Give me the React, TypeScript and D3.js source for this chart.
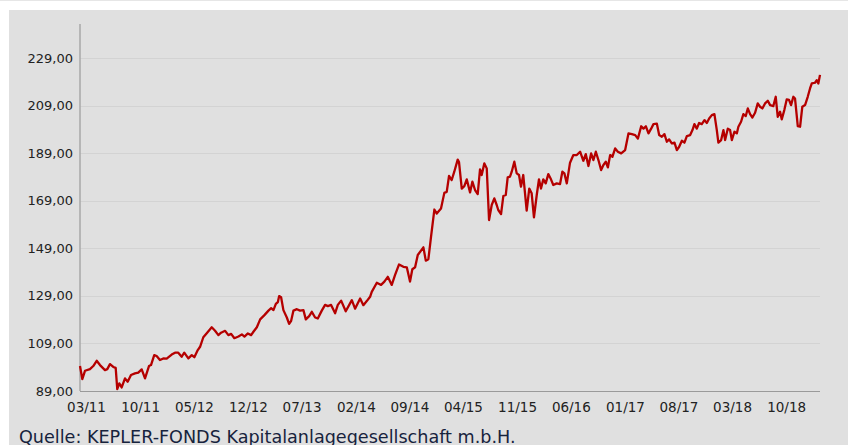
import React from "react";
import * as d3 from "d3";

// fund price (decimal year / value)
const years = [
  2011.091, 2011.116, 2011.145, 2011.199, 2011.235, 2011.272, 2011.308, 2011.362, 2011.387, 2011.416,
  2011.452, 2011.478, 2011.495, 2011.517, 2011.543, 2011.579, 2011.608, 2011.644, 2011.687, 2011.723,
  2011.760, 2011.796, 2011.839, 2011.861, 2011.896, 2011.922, 2011.958, 2011.994, 2012.031, 2012.085,
  2012.121, 2012.156, 2012.193, 2012.221, 2012.265, 2012.302, 2012.330, 2012.367, 2012.392, 2012.427,
  2012.464, 2012.518, 2012.554, 2012.590, 2012.619, 2012.663, 2012.698, 2012.728, 2012.763, 2012.807,
  2012.844, 2012.872, 2012.909, 2012.944, 2012.969, 2013.006, 2013.042, 2013.088, 2013.132, 2013.161,
  2013.186, 2013.212, 2013.234, 2013.248, 2013.269, 2013.294, 2013.331, 2013.356, 2013.378, 2013.403,
  2013.440, 2013.475, 2013.511, 2013.537, 2013.573, 2013.602, 2013.638, 2013.667, 2013.710, 2013.746,
  2013.776, 2013.811, 2013.855, 2013.884, 2013.920, 2013.970, 2014.036, 2014.071, 2014.126, 2014.161,
  2014.198, 2014.234, 2014.252, 2014.307, 2014.353, 2014.389, 2014.426, 2014.469, 2014.505, 2014.548,
  2014.595, 2014.632, 2014.667, 2014.692, 2014.722, 2014.751, 2014.812, 2014.838, 2014.866, 2014.895,
  2014.931, 2014.957, 2015.003, 2015.039, 2015.065, 2015.090, 2015.119, 2015.147, 2015.184, 2015.198,
  2015.228, 2015.256, 2015.282, 2015.318, 2015.343, 2015.372, 2015.401, 2015.426, 2015.444, 2015.473,
  2015.499, 2015.524, 2015.553, 2015.581, 2015.607, 2015.624, 2015.654, 2015.679, 2015.705, 2015.726,
  2015.751, 2015.770, 2015.798, 2015.824, 2015.849, 2015.870, 2015.895, 2015.932, 2015.960, 2015.986,
  2016.011, 2016.041, 2016.065, 2016.087, 2016.112, 2016.138, 2016.166, 2016.195, 2016.220, 2016.257,
  2016.293, 2016.318, 2016.340, 2016.366, 2016.401, 2016.437, 2016.474, 2016.510, 2016.545, 2016.571,
  2016.600, 2016.629, 2016.654, 2016.680, 2016.708, 2016.737, 2016.762, 2016.788, 2016.810, 2016.835,
  2016.860, 2016.889, 2016.918, 2016.954, 2016.997, 2017.033, 2017.070, 2017.106, 2017.135, 2017.171,
  2017.196, 2017.222, 2017.250, 2017.279, 2017.304, 2017.341, 2017.366, 2017.395, 2017.423, 2017.449,
  2017.474, 2017.503, 2017.532, 2017.558, 2017.583, 2017.612, 2017.640, 2017.666, 2017.702, 2017.727,
  2017.748, 2017.774, 2017.799, 2017.828, 2017.857, 2017.883, 2017.908, 2017.937, 2017.965, 2017.991,
  2018.008, 2018.038, 2018.063, 2018.081, 2018.110, 2018.135, 2018.154, 2018.182, 2018.208, 2018.225,
  2018.254, 2018.279, 2018.305, 2018.327, 2018.352, 2018.377, 2018.406, 2018.435, 2018.460, 2018.485,
  2018.514, 2018.544, 2018.569, 2018.604, 2018.630, 2018.652, 2018.677, 2018.695, 2018.723, 2018.749,
  2018.774, 2018.796, 2018.821, 2018.839, 2018.869, 2018.894, 2018.918, 2018.948, 2018.977, 2019.002,
  2019.021, 2019.056, 2019.075, 2019.092, 2019.110,
];

const values = [
  99.5, 94.0, 97.5, 98.2, 99.5, 101.7, 99.9, 97.8, 98.2, 100.3,
  99.1, 98.7, 89.8, 92.2, 90.5, 94.3, 92.9, 95.7, 96.4, 96.7,
  98.1, 94.3, 99.5, 99.9, 104.1, 103.7, 102.0, 102.7, 102.6, 104.3,
  105.1, 105.1, 103.4, 105.1, 102.7, 104.1, 103.2, 106.2, 107.6, 111.6,
  113.3, 115.8, 114.3, 112.5, 113.5, 114.3, 112.5, 113.0, 111.2, 111.9,
  112.8, 111.9, 113.2, 112.5, 113.9, 115.8, 119.1, 120.9, 122.8, 123.8,
  123.0, 125.6, 126.4, 128.9, 128.4, 123.0, 119.9, 117.2, 118.5, 122.8,
  123.4, 122.8, 123.0, 119.1, 120.5, 122.3, 119.9, 119.5, 122.8, 125.2,
  124.7, 125.2, 121.7, 125.2, 127.0, 122.5, 127.2, 123.6, 127.9, 125.1,
  126.8, 128.6, 130.7, 134.5, 133.6, 135.0, 137.0, 133.6, 137.8, 142.2,
  141.2, 141.0, 135.0, 140.2, 141.0, 146.2, 149.4, 143.8, 144.4, 153.9,
  165.3, 163.6, 165.7, 172.3, 172.7, 179.4, 177.7, 181.2, 186.3, 185.3,
  174.1, 175.1, 178.0, 172.5, 177.0, 173.5, 171.8, 182.2, 179.8, 184.7,
  182.6, 160.9, 167.2, 170.0, 167.2, 165.1, 163.4, 171.0, 171.4, 178.8,
  179.1, 181.2, 185.4, 180.5, 179.8, 174.9, 179.8, 164.8, 174.1, 172.1,
  162.0, 171.4, 178.0, 174.1, 178.0, 176.3, 180.2, 178.0, 175.6, 176.3,
  176.0, 181.2, 180.5, 176.3, 185.0, 188.2, 188.2, 189.6, 185.8, 188.6,
  183.6, 188.9, 186.1, 189.6, 186.1, 181.9, 184.0, 185.4, 183.0, 188.2,
  187.5, 191.0, 189.6, 188.9, 190.3, 197.3, 197.0, 196.6, 195.1, 200.3,
  199.3, 200.3, 197.3, 199.3, 201.2, 201.4, 196.6, 195.9, 197.0, 193.8,
  194.8, 193.1, 193.4, 190.3, 191.7, 194.2, 193.4, 196.2, 196.6, 198.7,
  201.2, 199.3, 201.7, 201.2, 202.9, 201.7, 203.6, 205.0, 205.4, 198.7,
  193.4, 194.5, 198.7, 194.5, 199.3, 198.7, 194.5, 198.0, 197.3, 200.1,
  202.2, 205.4, 204.6, 207.8, 205.4, 204.0, 206.0, 209.9, 208.5, 207.8,
  209.9, 211.0, 209.2, 208.8, 212.7, 204.3, 206.4, 203.2, 207.1, 211.6,
  211.4, 209.2, 212.7, 212.0, 200.4, 200.1, 208.5, 209.2, 212.7, 216.2,
  218.3, 218.6, 219.7, 218.3, 221.9,
];

const xTickLabels = [
  "03/11", "10/11", "05/12", "12/12", "07/13", "02/14", "09/14",
  "04/15", "11/15", "06/16", "01/17", "08/17", "03/18", "10/18",
];
const yTicks = [89, 109, 129, 149, 169, 189, 209, 229];
const yMax = 243.3;

const source = "Quelle: KEPLER-FONDS Kapitalanlagegesellschaft m.b.H.";

const W = 848;
const H = 445;
const font = "'DejaVu Sans', Verdana, sans-serif";

// decimal year -> Date
const toDate = (t: number) => {
  const y = Math.floor(t);
  const a = +new Date(y, 0, 1);
  const b = +new Date(y + 1, 0, 1);
  return new Date(a + (t - y) * (b - a));
};

// "MM/YY" -> Date at start of month
const labelDate = (s: string) => {
  const [mm, yy] = s.split("/").map(Number);
  return new Date(2000 + yy, mm - 1, 1);
};

export default function App() {
  const data = years.map((t, i) => ({ date: toDate(t), value: values[i] }));

  const left = 80, right = 820, top = 24, bottom = 391;

  const x = d3.scaleTime()
    .domain(d3.extent(data, d => d.date) as [Date, Date])
    .range([left, right]);

  const y = d3.scaleLinear()
    .domain([89, yMax])
    .range([bottom, top]);

  const line = d3.line<{ date: Date; value: number }>()
    .x(d => x(d.date))
    .y(d => y(d.value));

  const fmt = (v: number) => v.toFixed(2).replace(".", ",");

  return (
    <svg
      width={W}
      height={H}
      style={{ position: "absolute", left: 0, top: 0, display: "block" }}
    >
      <rect x={0} y={0} width={W} height={H} fill="#ffffff" />
      <line x1={0} x2={W} y1={0.5} y2={0.5} stroke="#e6e6e6" />
      <rect x={9} y={10} width={W - 9} height={H - 10} fill="#e0e0e0" />

      {/* gridlines */}
      {yTicks.slice(1).map(t => (
        <line
          key={t}
          x1={left}
          x2={right}
          y1={Math.round(y(t)) + 0.5}
          y2={Math.round(y(t)) + 0.5}
          stroke="#d3d3d3"
          strokeWidth={1}
        />
      ))}

      {/* axes */}
      <line x1={left} x2={left} y1={top} y2={bottom} stroke="#a8a8a8" strokeWidth={1.5} />
      <line x1={left} x2={right} y1={bottom + 0.5} y2={bottom + 0.5} stroke="#9a9a9a" strokeWidth={1} />

      {/* y labels */}
      {yTicks.map(t => (
        <text
          key={t}
          x={73}
          y={y(t) + 4.5}
          textAnchor="end"
          fontFamily={font}
          fontSize={13}
          fill="#222"
        >
          {fmt(t)}
        </text>
      ))}

      {/* x labels */}
      {xTickLabels.map(s => (
        <text
          key={s}
          x={x(labelDate(s))}
          y={412}
          textAnchor="middle"
          fontFamily={font}
          fontSize={13.5}
          fill="#222"
        >
          {s}
        </text>
      ))}

      <path
        d={line(data) ?? ""}
        fill="none"
        stroke="#b50000"
        strokeWidth={2.3}
        strokeLinejoin="round"
      />

      <text x={19} y={442.5} fontFamily={font} fontSize={17.6} fill="#17233d">
        {source}
      </text>
    </svg>
  );
}
